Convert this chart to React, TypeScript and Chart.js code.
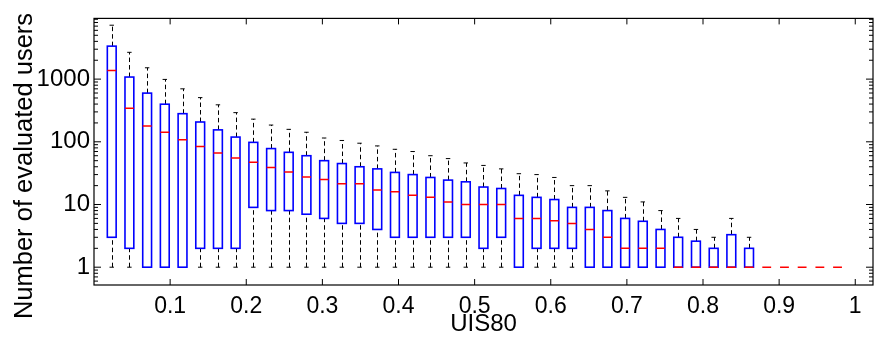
import React, { useEffect, useRef } from "react";
import { Chart, registerables } from "chart.js";

Chart.register(...registerables);

// Bin centres on the UIS80 axis
const positions = [
  0.0233, 0.0465, 0.0698, 0.093, 0.1163, 0.1395, 0.1628, 0.186, 0.2093, 0.2326,
  0.2558, 0.2791, 0.3023, 0.3256, 0.3488, 0.3721, 0.3953, 0.4186, 0.4419, 0.4651,
  0.4884, 0.5116, 0.5349, 0.5581, 0.5814, 0.6047, 0.6279, 0.6512, 0.6744, 0.6977,
  0.7209, 0.7442, 0.7674, 0.7907, 0.814, 0.8372, 0.8605, 0.8837, 0.907, 0.9302,
  0.9535, 0.9767,
];
const whiskerHigh = [
  7240, 2675, 1516, 989, 700, 507, 389, 292, 230, 185,
  158, 142, 115, 105, 95, 86, 76, 70, 60, 54,
  46, 42, 37, 31, 30, 27, 20, 20, 16.5, 13,
  11, 8, 6, 4, 3, 6, 3, 1, 1, 1,
  1, 1,
];
const upperQuartile = [
  3357, 1079, 598, 398, 281, 207, 155, 119, 98, 78,
  68, 60, 50, 45, 40, 37, 32.5, 30, 27, 24.5,
  23, 19, 18, 14, 13, 12, 9, 9, 8, 6,
  5.4, 4, 3, 2.6, 2, 3.3, 2, 1, 1, 1,
  1, 1,
];
const medians = [
  1367, 342, 179, 142, 108, 84, 66, 55, 47, 39,
  33, 27.5, 25, 21.5, 21.5, 17, 16, 14, 13, 11,
  10, 10, 10, 6, 6, 5.5, 5, 4, 3, 2,
  2, 2, 1, 1, 1, 1, 1, 1, 1, 1,
  1, 1,
];
const lowerQuartile = [
  3, 2, 1, 1, 1, 2, 2, 2, 9, 8,
  8, 7, 6, 5, 5, 4, 3, 3, 3, 3,
  3, 2, 3, 1, 2, 2, 2, 1, 1, 1,
  1, 1, 1, 1, 1, 1, 1, 1, 1, 1,
  1, 1,
];
const whiskerLow = [
  1, 1, 1, 1, 1, 1, 1, 1, 1, 1,
  1, 1, 1, 1, 1, 1, 1, 1, 1, 1,
  1, 1, 1, 1, 1, 1, 1, 1, 1, 1,
  1, 1, 1, 1, 1, 1, 1, 1, 1, 1,
  1, 1,
];

const xTickValues = [0.1, 0.2, 0.3, 0.4, 0.5, 0.6, 0.7, 0.8, 0.9, 1];
const xTickLabels = ["0.1", "0.2", "0.3", "0.4", "0.5", "0.6", "0.7", "0.8", "0.9", "1"];
const yTickValues = [1, 10, 100, 1000];
const yTickLabels = ["1", "10", "100", "1000"];
const xTitle = "UIS80";
const yTitle = "Number of evaluated users";

const X_MIN = 0;
const X_MAX = 1.0233;
const Y_MIN = 0.52;
const Y_MAX = 9300;
const BOX_HALF = 0.0058; // data units
const CAP_HALF = 0.0029;

const FONT = "'Liberation Sans', Arial, Helvetica, sans-serif";

const boxPlotPlugin = {
  id: "boxPlot",
  afterDatasetsDraw(chart: any) {
    const ctx = chart.ctx;
    const xs = chart.scales.x;
    const ys = chart.scales.y;
    const area = chart.chartArea;
    ctx.save();
    ctx.beginPath();
    ctx.rect(area.left, area.top, area.right - area.left, area.bottom - area.top);
    ctx.clip();
    for (let i = 0; i < positions.length; i++) {
      const cx = Math.round(xs.getPixelForValue(positions[i])) + 0.5;
      const x0 = xs.getPixelForValue(positions[i] - BOX_HALF);
      const x1 = xs.getPixelForValue(positions[i] + BOX_HALF);
      const c0 = xs.getPixelForValue(positions[i] - CAP_HALF);
      const c1 = xs.getPixelForValue(positions[i] + CAP_HALF);
      const yWh = ys.getPixelForValue(whiskerHigh[i]);
      const yQ3 = ys.getPixelForValue(upperQuartile[i]);
      const yMed = ys.getPixelForValue(medians[i]);
      const yQ1 = ys.getPixelForValue(lowerQuartile[i]);
      const yWl = ys.getPixelForValue(whiskerLow[i]);

      // whiskers
      ctx.strokeStyle = "#000";
      ctx.lineWidth = 1;
      if (whiskerHigh[i] > upperQuartile[i]) {
        ctx.setLineDash([4.5, 3]);
        ctx.beginPath();
        ctx.moveTo(cx, yQ3);
        ctx.lineTo(cx, yWh);
        ctx.stroke();
        ctx.setLineDash([]);
        ctx.beginPath();
        ctx.moveTo(c0, yWh);
        ctx.lineTo(c1, yWh);
        ctx.stroke();
      }
      if (lowerQuartile[i] > whiskerLow[i]) {
        ctx.setLineDash([4.5, 3]);
        ctx.beginPath();
        ctx.moveTo(cx, yWl);
        ctx.lineTo(cx, yQ1);
        ctx.stroke();
        ctx.setLineDash([]);
        ctx.beginPath();
        ctx.moveTo(c0, yWl);
        ctx.lineTo(c1, yWl);
        ctx.stroke();
      }

      // box
      if (upperQuartile[i] > lowerQuartile[i]) {
        ctx.strokeStyle = "#0000ff";
        ctx.lineWidth = 1.6;
        ctx.strokeRect(x0, yQ3, x1 - x0, yQ1 - yQ3);
      }

      // median
      ctx.strokeStyle = "#ff0000";
      ctx.lineWidth = 1.5;
      ctx.beginPath();
      ctx.moveTo(x0, yMed);
      ctx.lineTo(x1, yMed);
      ctx.stroke();
    }
    ctx.restore();
  },
  afterDraw(chart: any) {
    const ctx = chart.ctx;
    const xs = chart.scales.x;
    const ys = chart.scales.y;
    const a = chart.chartArea;
    ctx.save();
    ctx.strokeStyle = "#000";
    ctx.lineWidth = 1.2;
    ctx.strokeRect(a.left, a.top, a.right - a.left, a.bottom - a.top);
    ctx.lineWidth = 1;
    // x ticks (inward, bottom and top)
    for (const v of xTickValues) {
      const px = xs.getPixelForValue(v);
      ctx.beginPath();
      ctx.moveTo(px, a.bottom);
      ctx.lineTo(px, a.bottom - 6);
      ctx.moveTo(px, a.top);
      ctx.lineTo(px, a.top + 6);
      ctx.stroke();
    }
    // y ticks, major and minor (inward, left and right)
    for (let d = -1; d <= 4; d++) {
      for (let m = 1; m <= 9; m++) {
        const v = m * Math.pow(10, d);
        if (v < Y_MIN || v > Y_MAX) continue;
        const py = ys.getPixelForValue(v);
        const len = m === 1 ? 7 : 4;
        ctx.beginPath();
        ctx.moveTo(a.left, py);
        ctx.lineTo(a.left + len, py);
        ctx.moveTo(a.right, py);
        ctx.lineTo(a.right - len, py);
        ctx.stroke();
      }
    }
    // y-axis title
    ctx.fillStyle = "#000";
    ctx.font = `25.5px ${FONT}`;
    ctx.textAlign = "center";
    ctx.textBaseline = "alphabetic";
    ctx.translate(32.3, 166);
    ctx.rotate(-Math.PI / 2);
    ctx.fillText(yTitle, 0, 0);
    ctx.restore();
  },
};

export default function App() {
  const canvasRef = useRef<HTMLCanvasElement | null>(null);

  useEffect(() => {
    const canvas = canvasRef.current;
    if (!canvas) return;
    const chart = new Chart(canvas, {
      type: "scatter",
      data: {
        datasets: [
          {
            label: "median",
            data: positions.map((x, i) => ({ x, y: medians[i] })),
            pointRadius: 0,
            showLine: false,
          },
        ],
      },
      options: {
        animation: false,
        responsive: false,
        maintainAspectRatio: false,
        devicePixelRatio: 1,
        layout: { padding: { top: 12, right: 4, left: 0, bottom: 0 } },
        plugins: {
          legend: { display: false },
          tooltip: { enabled: false },
        },
        scales: {
          x: {
            type: "linear",
            position: "bottom",
            min: X_MIN,
            max: X_MAX,
            grid: { display: false, drawTicks: false },
            border: { display: false },
            afterBuildTicks: (s: any) => {
              s.ticks = xTickValues.map((v) => ({ value: v }));
            },
            afterFit: (s: any) => {
              s.height = 55;
            },
            ticks: {
              autoSkip: false,
              maxRotation: 0,
              padding: 8,
              color: "#000",
              font: { family: FONT, size: 23 },
              callback: (_v: any, i: number) => xTickLabels[i],
            },
            title: {
              display: true,
              text: xTitle,
              color: "#000",
              font: { family: FONT, size: 24 },
              padding: { top: 0, bottom: 1 },
            },
          },
          y: {
            type: "logarithmic",
            min: Y_MIN,
            max: Y_MAX,
            grid: { display: false, drawTicks: false },
            border: { display: false },
            afterBuildTicks: (s: any) => {
              s.ticks = yTickValues.map((v) => ({ value: v }));
            },
            afterFit: (s: any) => {
              s.width = 94;
            },
            ticks: {
              autoSkip: false,
              padding: 4,
              color: "#000",
              font: { family: FONT, size: 24 },
              callback: (_v: any, i: number) => yTickLabels[i],
            },
            title: { display: false },
          },
        },
      },
      plugins: [boxPlotPlugin],
    });
    return () => chart.destroy();
  }, []);

  return (
    <div style={{ position: "fixed", left: 0, top: 0, width: 877, height: 340, background: "#fff" }}>
      <canvas ref={canvasRef} width={877} height={340} style={{ width: 877, height: 340 }} />
    </div>
  );
}
